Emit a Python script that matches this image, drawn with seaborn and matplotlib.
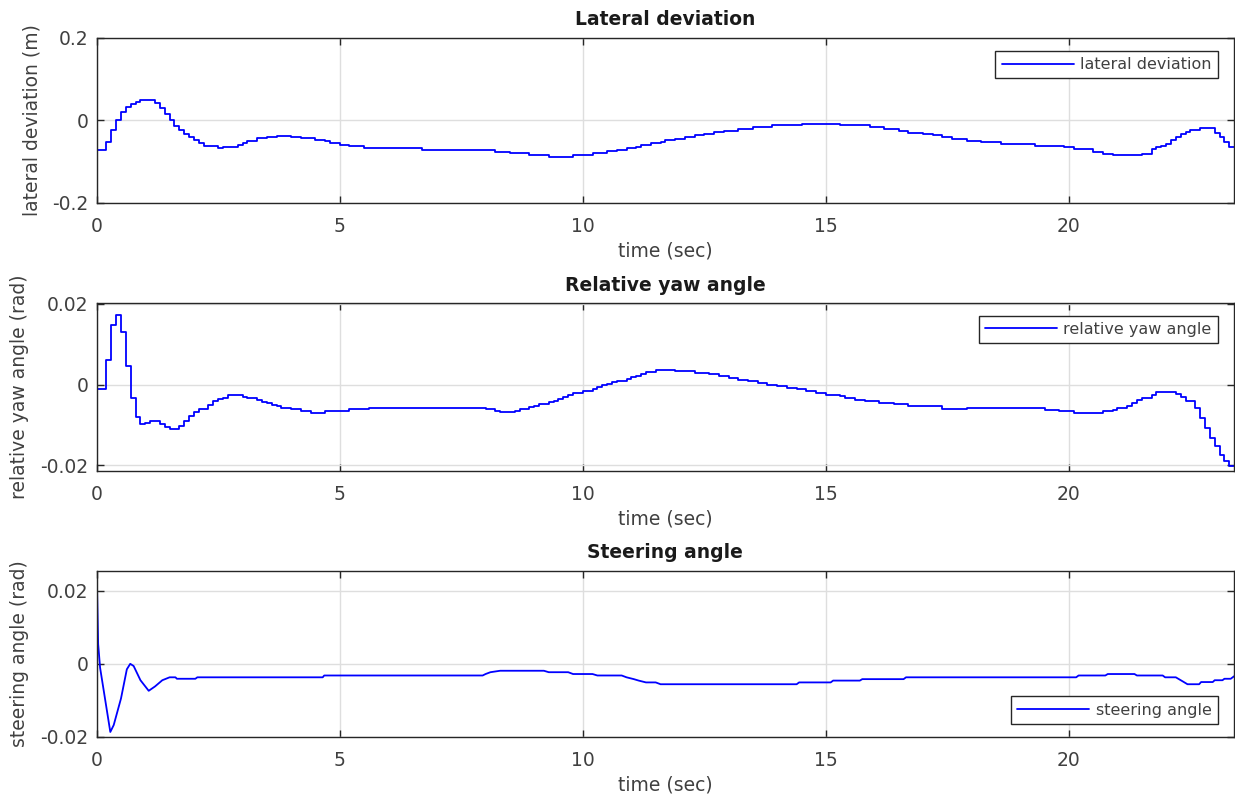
import numpy as np
import pandas as pd
import matplotlib
matplotlib.use("Agg")
import matplotlib.pyplot as plt
import seaborn as sns

## data (time in sec)
lat_t = [0.0, 0.2, 0.3, 0.4, 0.5, 0.6, 0.7, 0.8, 0.9, 1.2, 1.3, 1.4, 1.5, 1.6, 1.7, 1.8,
         1.9, 2.0, 2.1, 2.2, 2.5, 2.6, 2.9, 3.0, 3.1, 3.3, 3.5, 3.7, 4.0, 4.2, 4.5, 4.7,
         4.8, 5.0, 5.2, 5.5, 6.7, 8.2, 8.5, 8.9, 9.3, 9.8, 10.2, 10.5, 10.7, 10.9, 11.1,
         11.2, 11.4, 11.6, 11.7, 11.9, 12.1, 12.3, 12.5, 12.7, 12.9, 13.2, 13.5, 13.9,
         14.5, 15.3, 15.9, 16.2, 16.5, 16.7, 17.0, 17.2, 17.4, 17.6, 17.9, 18.2, 18.6,
         19.3, 19.9, 20.1, 20.5, 20.7, 20.9, 21.5, 21.7, 21.8, 21.9, 22.0, 22.1, 22.2,
         22.3, 22.4, 22.5, 22.7, 22.8, 23.0, 23.1, 23.2, 23.3, 23.4]
lat_v = [-0.073, -0.053, -0.024, 0.000, 0.019, 0.031, 0.040, 0.045, 0.048, 0.041, 0.029,
         0.015, 0.000, -0.014, -0.024, -0.033, -0.041, -0.049, -0.055, -0.063, -0.068,
         -0.064, -0.060, -0.056, -0.051, -0.044, -0.041, -0.038, -0.041, -0.043, -0.047,
         -0.051, -0.055, -0.059, -0.063, -0.068, -0.072, -0.076, -0.080, -0.084, -0.088,
         -0.084, -0.079, -0.075, -0.072, -0.068, -0.064, -0.060, -0.056, -0.052, -0.049,
         -0.045, -0.041, -0.037, -0.033, -0.029, -0.025, -0.021, -0.016, -0.012, -0.009,
         -0.012, -0.016, -0.021, -0.026, -0.030, -0.034, -0.037, -0.041, -0.045, -0.050,
         -0.054, -0.058, -0.062, -0.066, -0.070, -0.076, -0.081, -0.084, -0.081, -0.071,
         -0.066, -0.062, -0.057, -0.048, -0.040, -0.034, -0.028, -0.023, -0.018, -0.020,
         -0.030, -0.040, -0.054, -0.066, -0.066]

yaw_t = [0.0, 0.2, 0.3, 0.4, 0.5, 0.6, 0.7, 0.8, 0.9, 1.0, 1.1, 1.3, 1.4, 1.5, 1.7, 1.8,
         1.9, 2.0, 2.1, 2.3, 2.4, 2.5, 2.6, 2.7, 2.8, 3.0, 3.1, 3.3, 3.4, 3.5, 3.6, 3.7,
         3.8, 4.0, 4.2, 4.4, 4.7, 5.2, 5.6, 8.0, 8.2, 8.3, 8.6, 8.7, 8.9, 9.0, 9.1, 9.3,
         9.4, 9.5, 9.6, 9.7, 9.8, 10.0, 10.2, 10.3, 10.4, 10.5, 10.6, 10.7, 10.9, 11.0,
         11.1, 11.2, 11.3, 11.5, 11.9, 12.3, 12.6, 12.8, 13.0, 13.2, 13.4, 13.6, 13.8,
         14.0, 14.2, 14.4, 14.6, 14.8, 15.0, 15.3, 15.4, 15.6, 15.8, 16.1, 16.4, 16.7,
         17.4, 17.9, 19.5, 19.8, 20.1, 20.7, 20.9, 21.0, 21.2, 21.3, 21.4, 21.5, 21.7,
         21.8, 22.2, 22.3, 22.4, 22.6, 22.7, 22.8, 22.9, 23.0, 23.1, 23.2, 23.3, 23.4]
yaw_v = [-0.0012, 0.0061, 0.0148, 0.0172, 0.0131, 0.0045, -0.0032, -0.0081, -0.0098,
         -0.0095, -0.0090, -0.0098, -0.0105, -0.0110, -0.0102, -0.0090, -0.0077, -0.0069,
         -0.0061, -0.0051, -0.0040, -0.0035, -0.0032, -0.0027, -0.0025, -0.0030, -0.0033,
         -0.0038, -0.0042, -0.0046, -0.0050, -0.0054, -0.0057, -0.0061, -0.0065, -0.0070,
         -0.0066, -0.0061, -0.0057, -0.0060, -0.0065, -0.0069, -0.0065, -0.0060, -0.0056,
         -0.0052, -0.0048, -0.0044, -0.0040, -0.0035, -0.0030, -0.0026, -0.0021, -0.0016,
         -0.0012, -0.0007, -0.0002, 0.0002, 0.0006, 0.0010, 0.0014, 0.0018, 0.0022, 0.0026,
         0.0031, 0.0036, 0.0033, 0.0029, 0.0025, 0.0021, 0.0016, 0.0012, 0.0008, 0.0004,
         0.0000, -0.0004, -0.0008, -0.0012, -0.0016, -0.0021, -0.0025, -0.0029, -0.0033,
         -0.0037, -0.0041, -0.0045, -0.0049, -0.0054, -0.0060, -0.0057, -0.0062, -0.0066,
         -0.0070, -0.0066, -0.0062, -0.0058, -0.0052, -0.0045, -0.0039, -0.0033, -0.0026,
         -0.0018, -0.0023, -0.0030, -0.0041, -0.0058, -0.0082, -0.0107, -0.0132, -0.0152,
         -0.0173, -0.0189, -0.0202, -0.0202]

steer_t = [0.0, 0.01, 0.03, 0.07, 0.28, 0.35, 0.5, 0.62, 0.69, 0.76, 0.9, 1.07, 1.2, 1.35,
           1.5, 1.62, 1.65, 2.03, 2.07, 4.65, 4.68, 7.94, 8.0, 8.1, 8.3, 9.2, 9.3, 9.7,
           9.8, 10.2, 10.3, 10.8, 10.9, 11.05, 11.15, 11.3, 11.5, 11.6, 14.4, 14.45,
           15.1, 15.15, 15.7, 15.75, 16.6, 16.65, 20.15, 20.2, 20.75, 20.8, 21.35, 21.4,
           21.93, 21.98, 22.2, 22.34, 22.44, 22.68, 22.72, 22.96, 23.0, 23.16, 23.2,
           23.33, 23.4]
steer_v = [0.0256, 0.0188, 0.0054, -0.0011, -0.0187, -0.0168, -0.0095, -0.0015, 0.0000,
           -0.0006, -0.0045, -0.0074, -0.0062, -0.0045, -0.0037, -0.0037, -0.0041, -0.0041,
           -0.0037, -0.0037, -0.0032, -0.0032, -0.0028, -0.0023, -0.0019, -0.0019, -0.0023,
           -0.0023, -0.0028, -0.0028, -0.0032, -0.0032, -0.0037, -0.0042, -0.0046, -0.0051,
           -0.0051, -0.0056, -0.0056, -0.0051, -0.0051, -0.0046, -0.0046, -0.0042, -0.0042,
           -0.0037, -0.0037, -0.0032, -0.0032, -0.0028, -0.0028, -0.0032, -0.0032, -0.0037,
           -0.0037, -0.0048, -0.0056, -0.0056, -0.0050, -0.0050, -0.0045, -0.0045, -0.0041,
           -0.0041, -0.0034]

titles = ["Lateral deviation", "Relative yaw angle", "Steering angle"]
ylabels = ["lateral deviation (m)", "relative yaw angle (rad)", "steering angle (rad)"]
legends = ["lateral deviation", "relative yaw angle", "steering angle"]
yticks = [[-0.2, 0, 0.2], [-0.02, 0, 0.02], [-0.02, 0, 0.02]]
ytick_labels = [["-0.2", "0", "0.2"], ["-0.02", "0", "0.02"], ["-0.02", "0", "0.02"]]
ylims = [(-0.2, 0.2), (-0.0213, 0.0201), (-0.02, 0.0255)]

## style
sns.set_theme(style="whitegrid", rc={
    "axes.edgecolor": "#262626",
    "axes.linewidth": 1.0,
    "grid.color": "#dedede",
    "grid.linewidth": 1.0,
    "axes.unicode_minus": False,
    "text.color": "#262626",
    "axes.labelcolor": "#262626",
})
plt.rcParams["font.family"] = ["DejaVu Sans"]

fig = plt.figure(figsize=(12.35, 8), dpi=100)
rects = [[0.0783, 0.7466, 0.921, 0.2063],
         [0.0783, 0.4116, 0.921, 0.2093],
         [0.0783, 0.0791, 0.921, 0.2073]]
axes = [fig.add_axes(r) for r in rects]

data = [pd.DataFrame({"t": lat_t, "v": lat_v}),
        pd.DataFrame({"t": yaw_t, "v": yaw_v}),
        pd.DataFrame({"t": steer_t, "v": steer_v})]
styles = ["steps-post", "steps-post", "default"]

legend_loc = ["upper right", "upper right", "lower right"]
legend_anchor = [(0.9857, 0.921), (0.9857, 0.926), (0.9857, 0.077)]

for i, ax in enumerate(axes):
    sns.lineplot(data=data[i], x="t", y="v", ax=ax, color="#0000ff", linewidth=1.3,
                 drawstyle=styles[i], estimator=None, label=legends[i])
    ax.set_xlim(0, 23.4)
    ax.set_ylim(*ylims[i])
    ax.set_xticks([0, 5, 10, 15, 20])
    ax.set_xticklabels(["0", "5", "10", "15", "20"])
    ax.set_yticks(yticks[i])
    ax.set_yticklabels(ytick_labels[i])
    ax.tick_params(which="both", direction="in", top=True, right=True, bottom=True,
                   left=True, length=5, width=1.0, color="#262626", labelsize=13.5,
                   labelcolor="#404040")
    ax.tick_params(axis="y", pad=6)
    ax.tick_params(axis="x", pad=10)
    ax.set_title(titles[i], fontsize=13.5, fontweight="bold", pad=9, color="#1a1a1a")
    ax.set_xlabel("time (sec)", fontsize=13.5, labelpad=4, color="#404040")
    ax.set_ylabel(ylabels[i], fontsize=13.5, labelpad=8, color="#404040")
    ax.grid(True, color="#dedede", linewidth=1.0)
    for s in ax.spines.values():
        s.set_visible(True)
        s.set_color("#262626")
        s.set_linewidth(1.0)
    leg = ax.legend(loc=legend_loc[i], bbox_to_anchor=legend_anchor[i], borderaxespad=0,
                    fontsize=11.5, handlelength=4.5, handletextpad=0.4, fancybox=False,
                    framealpha=1, edgecolor="#262626", borderpad=0.4)
    leg.get_frame().set_linewidth(1.0)
    for txt in leg.get_texts():
        txt.set_color("#404040")

fig.savefig("out.png", dpi=100)
